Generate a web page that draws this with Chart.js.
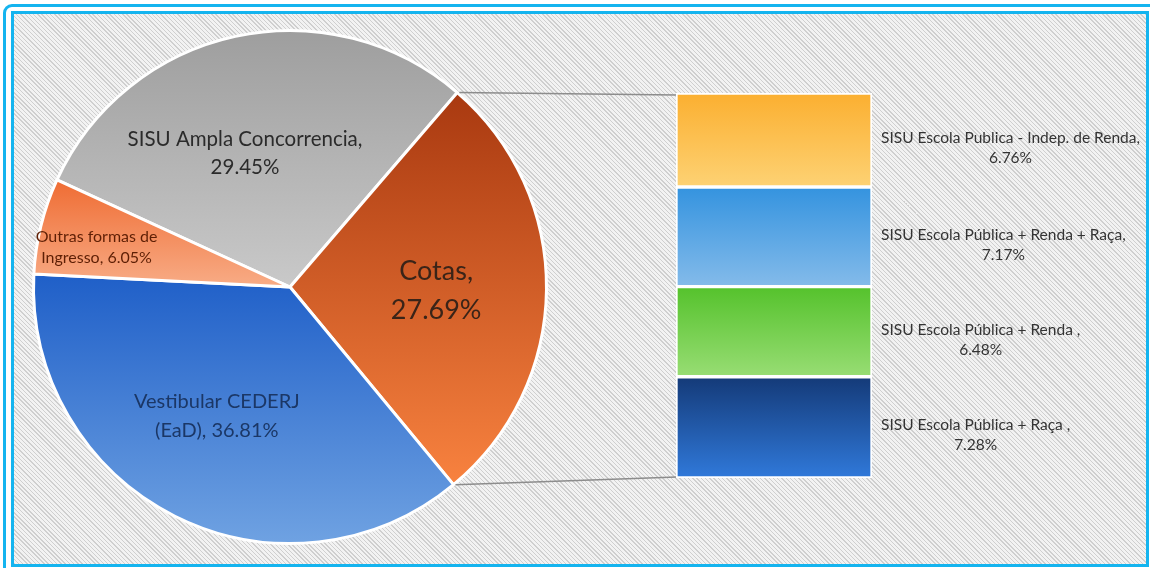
<!DOCTYPE html>
<html>
<head>
<meta charset="utf-8">
<script src="https://cdn.jsdelivr.net/npm/chart.js@4.4.1/dist/chart.umd.min.js"></script>
<style>
html,body{margin:0;padding:0;background:#fff;overflow:hidden;}
#wrap{position:relative;width:1150px;height:568px;overflow:hidden;}
.outer{position:absolute;left:3px;top:4px;width:1170px;height:590px;border:3px solid #14b4ef;border-radius:9px;box-sizing:border-box;}
.inner{position:absolute;left:11px;top:11px;width:1138px;height:556px;border:3px solid #14b4ef;box-sizing:border-box;
  background:repeating-linear-gradient(45deg,#cfcfcf 0px,#cfcfcf 1px,#f2f2f2 1px,#f2f2f2 3px);}
canvas{position:absolute;left:0;top:0;}
</style>
</head>
<body>
<div id="wrap">
  <div class="outer"></div>
  <div class="inner"></div>
  <canvas id="pie" width="1150" height="568"></canvas>
  <canvas id="bar" width="1150" height="568"></canvas>
</div>
<script>
// pie slices (clockwise from the top-left gray slice)
var PIE_LABELS=['SISU Ampla Concorrencia','Cotas','Vestibular CEDERJ (EaD)','Outras formas de Ingresso'];
var PIE_VALUES=[29.45,27.69,36.81,6.05];
// breakdown of "Cotas", bottom to top of the stacked bar
var COTA_LABELS=['SISU Escola Pública + Raça ','SISU Escola Pública + Renda ','SISU Escola Pública + Renda + Raça','SISU Escola Publica - Indep. de Renda'];
var COTA_VALUES=[7.28,6.48,7.17,6.76];

var FONT="Lato,'Open Sans',sans-serif";
var ROT=-65.3;

// [top colour, bottom colour] per slice / segment
var PIE_COLS=[['#9e9e9e','#c9c9c9'],['#a93910','#f8823f'],['#1f5fc8','#6fa2e2'],['#ef6c33','#f8ac86']];
var BAR_COLS=[['#143a78','#3079da'],['#55c22c','#98dd74'],['#3493df','#84bbea'],['#fbaf30','#fdd274']];

// label look per slice: font size, line gap, colour, wrap width, radius fraction, angle nudge (deg)
var PIE_LBL=[
  {size:20.5,gap:28,color:'#2b2b2b',wrap:250,f:0.55,da:-6.3},
  {size:27,gap:39,color:'#3a2418',wrap:110,f:0.57,da:1},
  {size:20,gap:29,color:'#1b3766',wrap:175,f:0.58,da:2.8},
  {size:16,gap:21,color:'#5e1f05',wrap:140,f:0.77,da:-2.2}
];

var pieTotal=PIE_VALUES.reduce(function(a,b){return a+b;},0);
var cotaTotal=COTA_VALUES.reduce(function(a,b){return a+b;},0);

function fmt(v){return v.toFixed(2)+'%';}

function wrapText(ctx,text,maxW){
  var words=text.split(' ');var lines=[];var cur='';
  words.forEach(function(w){
    var t=cur?cur+' '+w:w;
    if(cur&&ctx.measureText(t).width>maxW){lines.push(cur);cur=w;}
    else cur=t;
  });
  if(cur) lines.push(cur);
  return lines;
}

// vertical gradient covering the slice's own height
function sliceGrad(c){
  var ch=c.chart,a=ch.chartArea,i=c.dataIndex;
  if(!a) return PIE_COLS[i][1];
  var cx=(a.left+a.right)/2,cy=(a.top+a.bottom)/2,r=(Math.min(a.width,a.height)-3)/2;
  var cum=0;for(var k=0;k<i;k++)cum+=PIE_VALUES[k];
  var s=ROT+cum/pieTotal*360,e=s+PIE_VALUES[i]/pieTotal*360;
  var ys=[cy,cy-r*Math.cos(s*Math.PI/180),cy-r*Math.cos(e*Math.PI/180)];
  for(var d=-360;d<=720;d+=180){if(d>s&&d<e)ys.push(d%360===0?cy-r:cy+r);}
  var y0=Math.min.apply(null,ys),y1=Math.max.apply(null,ys);
  var g=ch.ctx.createLinearGradient(0,y0,0,y1);
  g.addColorStop(0,PIE_COLS[i][0]);g.addColorStop(1,PIE_COLS[i][1]);
  return g;
}

var pieLabelPlugin={
  id:'pieLabels',
  afterDatasetsDraw:function(chart){
    var ctx=chart.ctx;var meta=chart.getDatasetMeta(0);
    meta.data.forEach(function(el,i){
      var L=PIE_LBL[i];
      var a=(el.startAngle+el.endAngle)/2+L.da*Math.PI/180;
      var x=el.x+Math.cos(a)*el.outerRadius*L.f;
      var y=el.y+Math.sin(a)*el.outerRadius*L.f;
      ctx.save();
      ctx.font=L.size+'px '+FONT;ctx.fillStyle=L.color;
      ctx.textAlign='center';ctx.textBaseline='middle';
      var lines=wrapText(ctx,PIE_LABELS[i]+', '+fmt(PIE_VALUES[i]),L.wrap);
      var y0=y-(lines.length-1)*L.gap/2;
      lines.forEach(function(t,j){ctx.fillText(t,x,y0+j*L.gap);});
      ctx.restore();
    });
  }
};

var pieChart=new Chart(document.getElementById('pie'),{
  type:'pie',
  data:{labels:PIE_LABELS,datasets:[{data:PIE_VALUES,backgroundColor:sliceGrad,borderColor:'#ffffff',borderWidth:3}]},
  options:{
    responsive:false,animation:false,rotation:ROT,
    layout:{padding:{left:32,right:602,top:29,bottom:23}},
    plugins:{legend:{display:false},tooltip:{enabled:false}}
  },
  plugins:[pieLabelPlugin]
});

function barGrad(i){
  return function(c){
    var ch=c.chart;if(!ch.chartArea||!ch.scales.y) return BAR_COLS[i][1];
    var base=0;for(var k=0;k<i;k++)base+=COTA_VALUES[k];
    var yTop=ch.scales.y.getPixelForValue(base+COTA_VALUES[i]);
    var yBot=ch.scales.y.getPixelForValue(base);
    var g=ch.ctx.createLinearGradient(0,yTop,0,yBot);
    g.addColorStop(0,BAR_COLS[i][0]);g.addColorStop(1,BAR_COLS[i][1]);
    return g;
  };
}

var barExtras={
  id:'barExtras',
  beforeDatasetsDraw:function(chart){
    // connector lines from the Cotas slice to the bar
    var ctx=chart.ctx;
    var arc=pieChart.getDatasetMeta(0).data[1];
    var topEl=chart.getDatasetMeta(COTA_VALUES.length-1).data[0];
    var botEl=chart.getDatasetMeta(0).data[0];
    var left=topEl.x-topEl.width/2;
    var p1=[arc.x+Math.cos(arc.startAngle)*arc.outerRadius,arc.y+Math.sin(arc.startAngle)*arc.outerRadius];
    var p2=[arc.x+Math.cos(arc.endAngle)*arc.outerRadius,arc.y+Math.sin(arc.endAngle)*arc.outerRadius];
    ctx.save();
    ctx.strokeStyle='#8c8c8c';ctx.lineWidth=1.5;
    ctx.beginPath();
    ctx.moveTo(p1[0]+2,p1[1]);ctx.lineTo(left+1,topEl.y+2);
    ctx.moveTo(p2[0]+2,p2[1]);ctx.lineTo(left+1,botEl.base-1);
    ctx.stroke();
    ctx.restore();
  },
  afterDatasetsDraw:function(chart){
    var ctx=chart.ctx;
    ctx.save();
    ctx.font='15.5px '+FONT;ctx.fillStyle='#333333';
    ctx.textAlign='center';ctx.textBaseline='middle';
    COTA_VALUES.forEach(function(v,i){
      var el=chart.getDatasetMeta(i).data[0];
      var lines=[COTA_LABELS[i]+',',fmt(v)];
      var w=Math.max.apply(null,lines.map(function(t){return ctx.measureText(t).width;}));
      var cx=el.x+el.width/2+9+w/2;
      var cy=(el.y+el.base)/2+8;
      ctx.fillText(lines[0],cx,cy-10);
      ctx.fillText(lines[1],cx,cy+10);
    });
    ctx.restore();
  }
};

new Chart(document.getElementById('bar'),{
  type:'bar',
  data:{
    labels:['Cotas'],
    datasets:COTA_VALUES.map(function(v,i){
      return {label:COTA_LABELS[i],data:[v],backgroundColor:barGrad(i),borderColor:'#ffffff',borderWidth:2,borderSkipped:false,
        barPercentage:1,categoryPercentage:1};
    })
  },
  options:{
    responsive:false,animation:false,
    layout:{padding:{left:676,right:278,top:93,bottom:90}},
    scales:{
      x:{display:false,stacked:true},
      y:{display:false,stacked:true,min:0,max:cotaTotal}
    },
    plugins:{legend:{display:false},tooltip:{enabled:false}}
  },
  plugins:[barExtras]
});
</script>
</body>
</html>
